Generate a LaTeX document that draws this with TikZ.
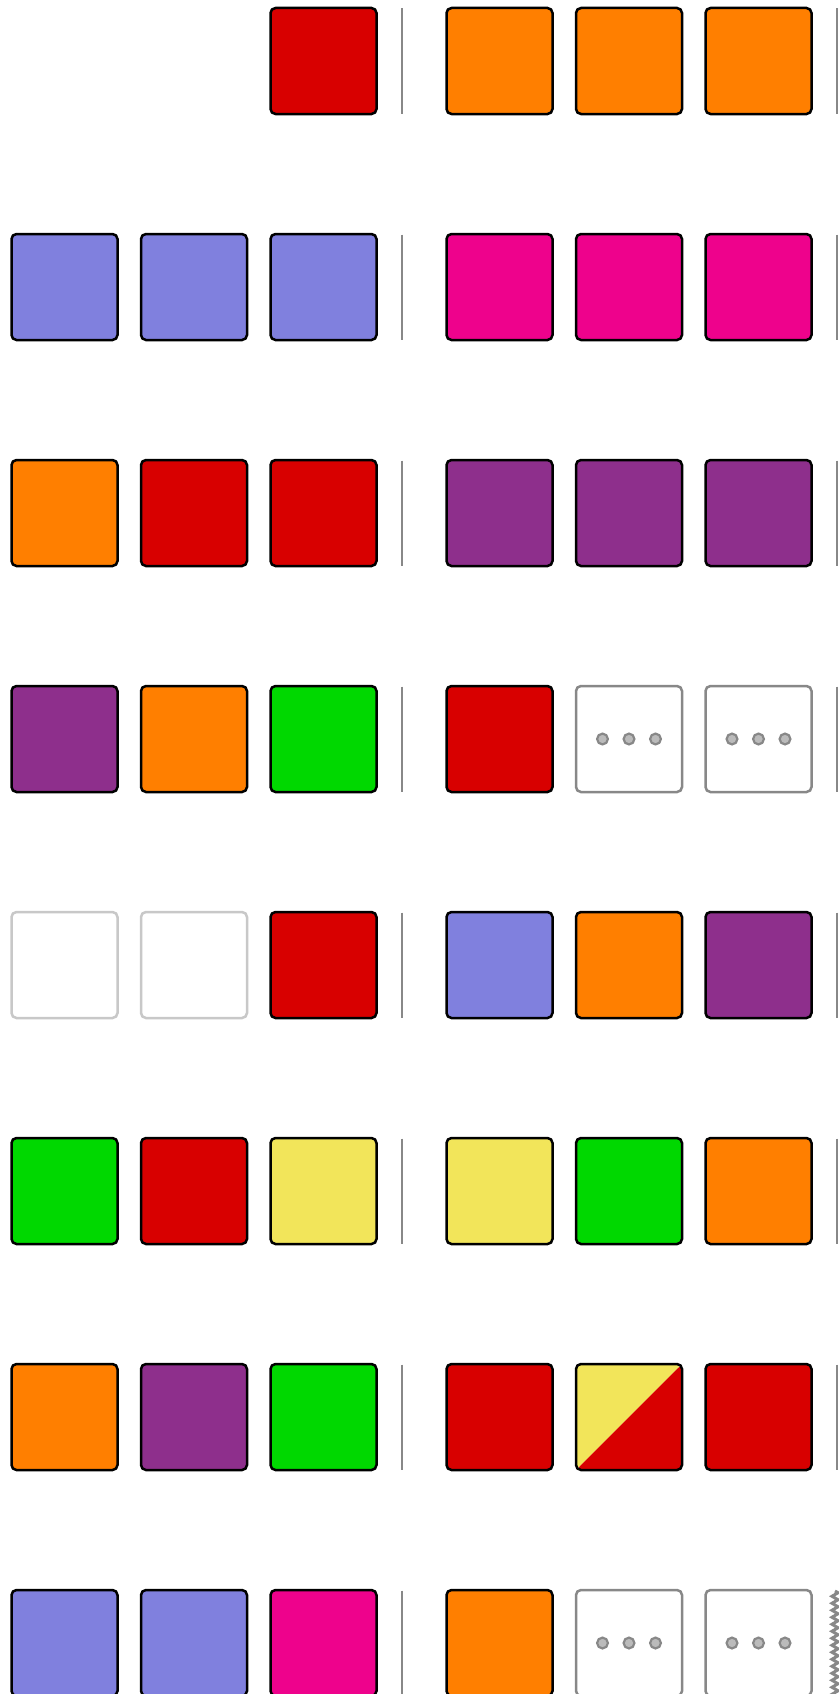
\documentclass[tikz,border=0pt]{standalone}
\usetikzlibrary{decorations.pathmorphing}
\definecolor{cred}{HTML}{D80000}
\definecolor{corange}{HTML}{FF7F00}
\definecolor{cblue}{HTML}{8080DE}
\definecolor{cpink}{HTML}{EE028C}
\definecolor{cpurple}{HTML}{8E2F8C}
\definecolor{cgreen}{HTML}{00D800}
\definecolor{cyellow}{HTML}{F2E55A}
\definecolor{cdiv}{HTML}{888888}
\definecolor{cempty}{HTML}{C8C8C8}
\definecolor{cdot}{HTML}{BBBBBB}
\tikzset{
  tile/.style={draw=black, line width=2.5pt, rounded corners=5pt,
    minimum width=106pt, minimum height=106pt, inner sep=0pt, outer sep=0pt},
  R/.style={tile, fill=cred},
  O/.style={tile, fill=corange},
  B/.style={tile, fill=cblue},
  P/.style={tile, fill=cpink},
  U/.style={tile, fill=cpurple},
  G/.style={tile, fill=cgreen},
  Y/.style={tile, fill=cyellow},
  E/.style={tile, draw=cempty, fill=white},
  D/.style={tile, draw=cdiv, fill=white, path picture={
      \foreach \dx in {-26.5,0,26.5}
        \draw[cdiv, fill=cdot, line width=2.2pt] ([xshift=\dx pt]path picture bounding box.center) circle (5.4pt);}},
  YR/.style={tile, path picture={
      \fill[cyellow] (path picture bounding box.south west) -- (path picture bounding box.north west) -- (path picture bounding box.north east) -- cycle;
      \fill[cred] (path picture bounding box.south west) -- (path picture bounding box.south east) -- (path picture bounding box.north east) -- cycle;}},
  divider/.style={draw=cdiv, line width=2.2pt},
  wavy/.style={draw=cdiv, line width=3pt, decorate, decoration={zigzag, segment length=7pt, amplitude=3pt}}
}
\begin{document}
\begin{tikzpicture}[x=1pt,y=-1pt]
\useasboundingbox[fill=white] (0,0) rectangle (838,1694);
% row 1
\node[R] (r1c3) at (323.5,61) {};
\node[O] (r1c4) at (499.5,61) {};
\node[O] (r1c5) at (629,61) {};
\node[O] (r1c6) at (758.5,61) {};
% row 2
\node[B] (r2c1) at (64.5,287) {};
\node[B] (r2c2) at (194,287) {};
\node[B] (r2c3) at (323.5,287) {};
\node[P] (r2c4) at (499.5,287) {};
\node[P] (r2c5) at (629,287) {};
\node[P] (r2c6) at (758.5,287) {};
% row 3
\node[O] (r3c1) at (64.5,513) {};
\node[R] (r3c2) at (194,513) {};
\node[R] (r3c3) at (323.5,513) {};
\node[U] (r3c4) at (499.5,513) {};
\node[U] (r3c5) at (629,513) {};
\node[U] (r3c6) at (758.5,513) {};
% row 4
\node[U] (r4c1) at (64.5,739) {};
\node[O] (r4c2) at (194,739) {};
\node[G] (r4c3) at (323.5,739) {};
\node[R] (r4c4) at (499.5,739) {};
\node[D] (r4c5) at (629,739) {};
\node[D] (r4c6) at (758.5,739) {};
% row 5
\node[E] (r5c1) at (64.5,965) {};
\node[E] (r5c2) at (194,965) {};
\node[R] (r5c3) at (323.5,965) {};
\node[B] (r5c4) at (499.5,965) {};
\node[O] (r5c5) at (629,965) {};
\node[U] (r5c6) at (758.5,965) {};
% row 6
\node[G] (r6c1) at (64.5,1191) {};
\node[R] (r6c2) at (194,1191) {};
\node[Y] (r6c3) at (323.5,1191) {};
\node[Y] (r6c4) at (499.5,1191) {};
\node[G] (r6c5) at (629,1191) {};
\node[O] (r6c6) at (758.5,1191) {};
% row 7
\node[O] (r7c1) at (64.5,1417) {};
\node[U] (r7c2) at (194,1417) {};
\node[G] (r7c3) at (323.5,1417) {};
\node[R] (r7c4) at (499.5,1417) {};
\node[YR] (r7c5) at (629,1417) {};
\node[R] (r7c6) at (758.5,1417) {};
% row 8
\node[B] (r8c1) at (64.5,1643) {};
\node[B] (r8c2) at (194,1643) {};
\node[P] (r8c3) at (323.5,1643) {};
\node[O] (r8c4) at (499.5,1643) {};
\node[D] (r8c5) at (629,1643) {};
\node[D] (r8c6) at (758.5,1643) {};
% dividers
\foreach \y in {61,287,513,739,965,1191,1417,1643}
  \draw[divider] (402,\y-52.5) -- (402,\y+52.5);
\foreach \y in {61,287,513,739,965,1191,1417}
  \draw[divider] (837,\y-52.5) -- (837,\y+52.5);
\draw[wavy] (835,1591) -- (835,1700);
\end{tikzpicture}
\end{document}
